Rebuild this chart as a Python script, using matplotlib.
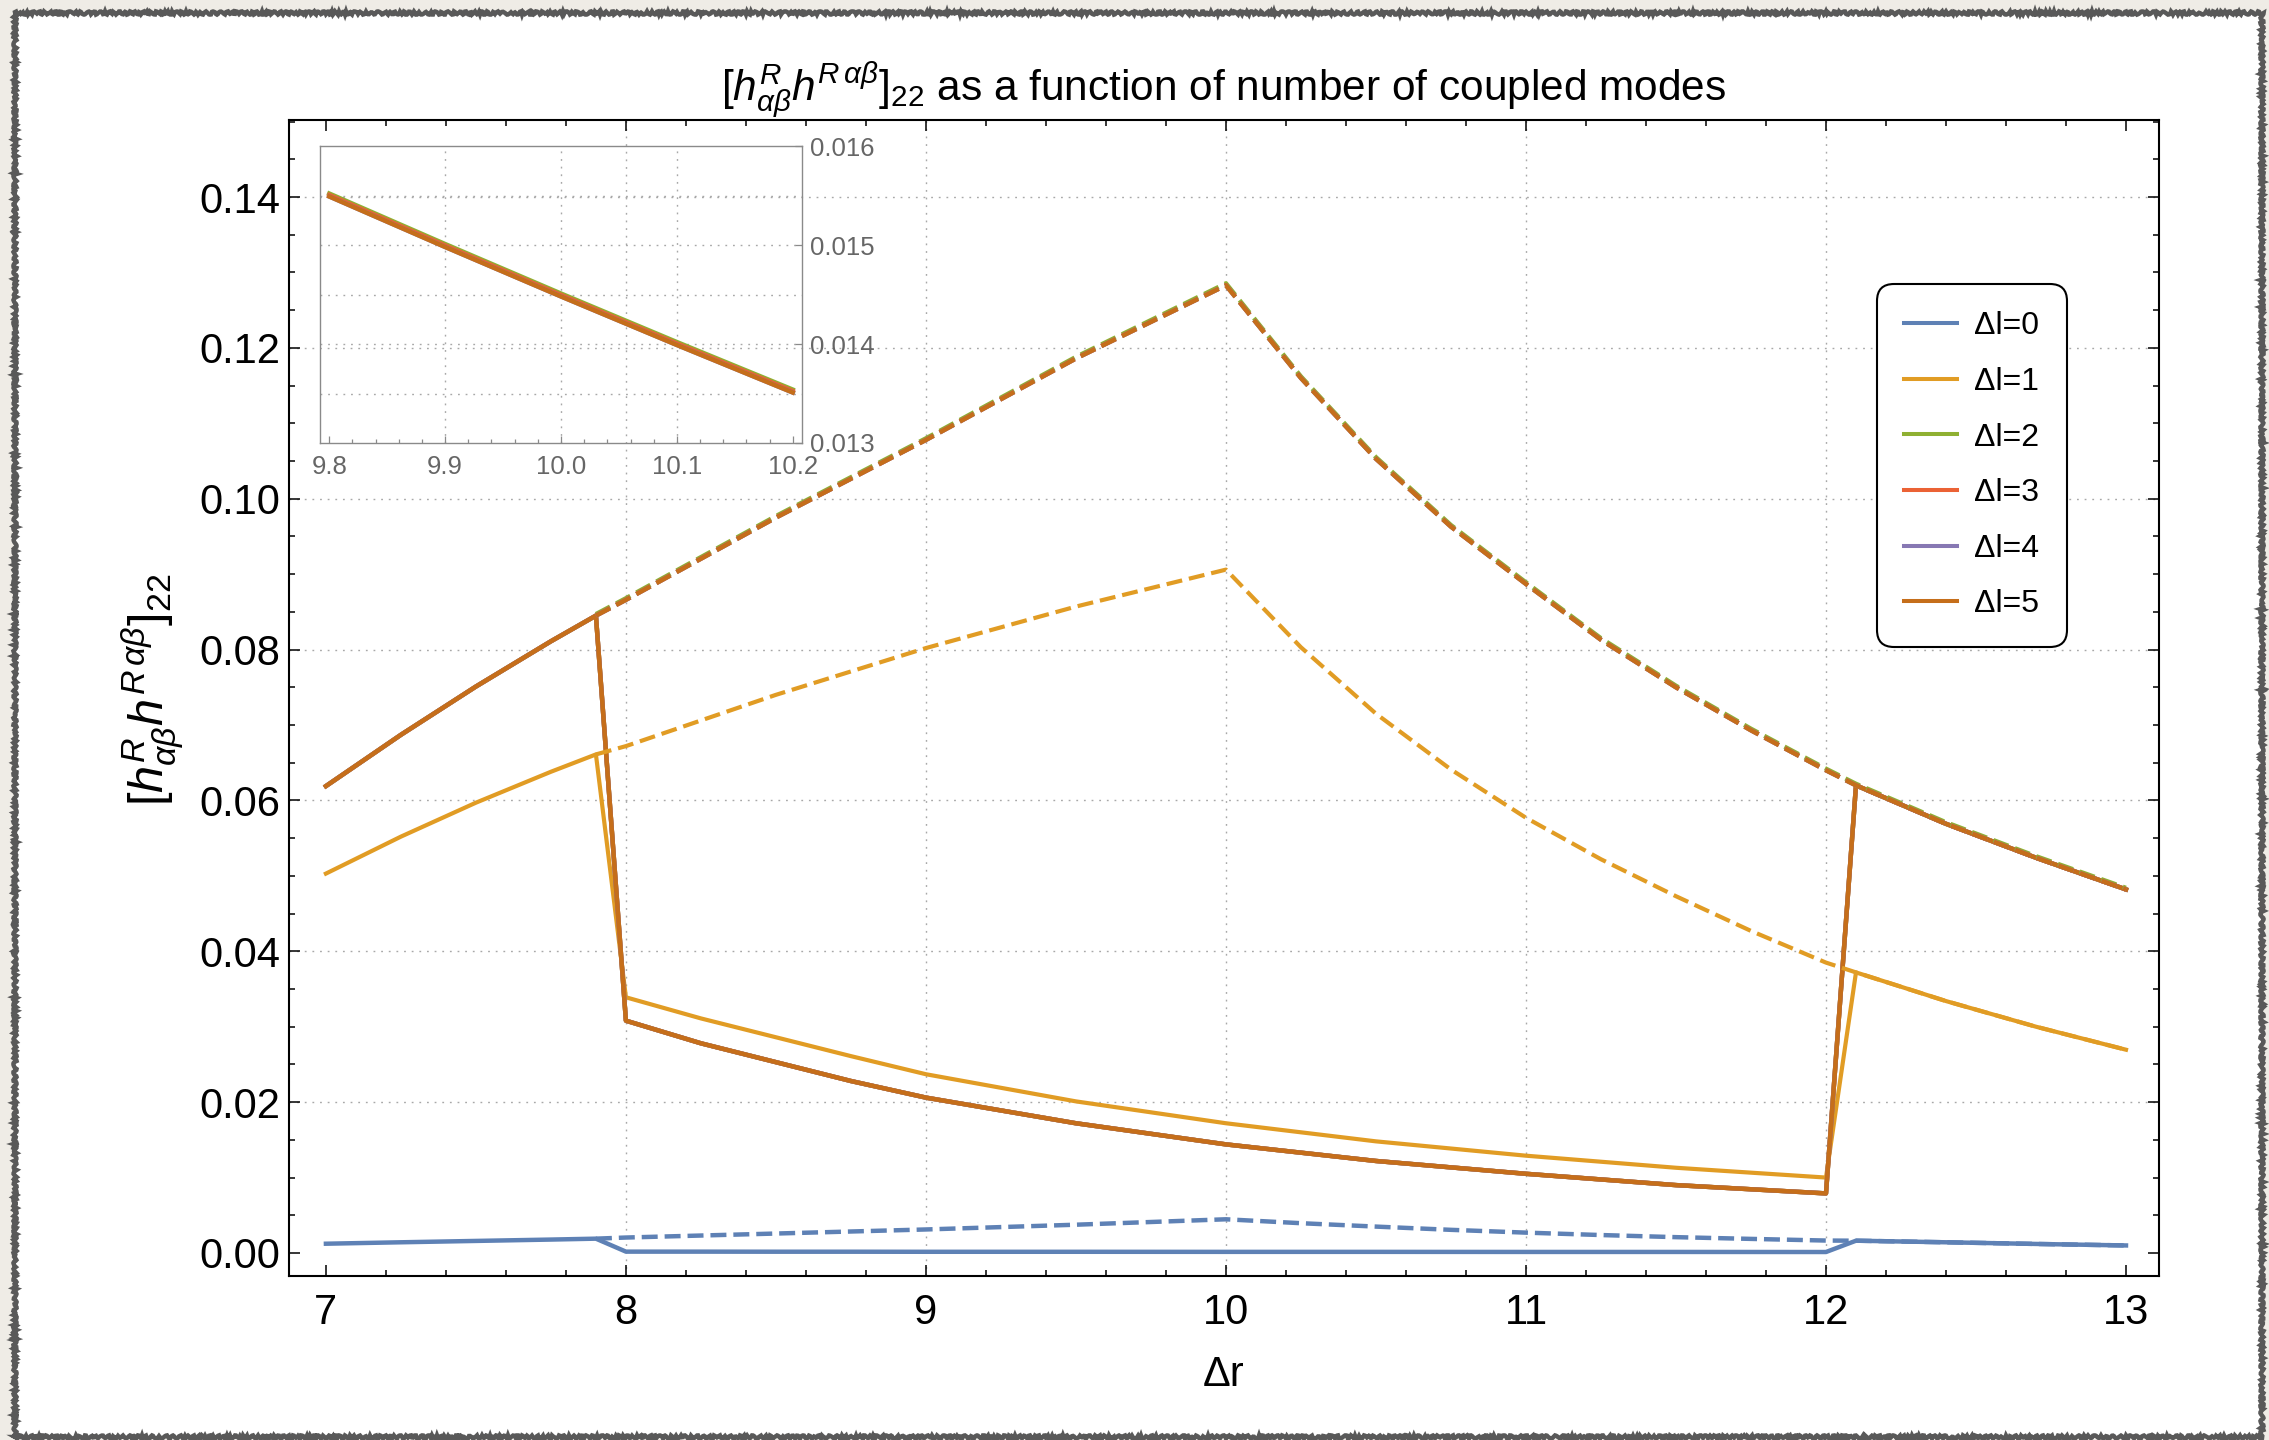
import matplotlib
matplotlib.use('Agg')
import matplotlib.pyplot as plt
from matplotlib.lines import Line2D
from matplotlib.patches import Rectangle
from matplotlib.ticker import MultipleLocator, FormatStrFormatter

plt.rcParams['font.family'] = ['Liberation Sans', 'DejaVu Sans']
plt.rcParams['mathtext.fontset'] = 'custom'
plt.rcParams['mathtext.rm'] = 'Liberation Sans'
plt.rcParams['mathtext.it'] = 'Liberation Sans:italic'
plt.rcParams['mathtext.bf'] = 'Liberation Sans:bold'
plt.rcParams['lines.scale_dashes'] = False

# ------------------------------------------------------------------ data
labels = ['Δl=0', 'Δl=1', 'Δl=2', 'Δl=3', 'Δl=4', 'Δl=5']
colors = ['#5E81B5', '#E19C24', '#8FB032', '#EB6235', '#8778B3', '#C56E1A']

# solid branch
x_solid = [7.0, 7.25, 7.5, 7.75, 7.9,
           8.0, 8.25, 8.5, 8.75, 9.0, 9.5, 10.0, 10.5, 11.0, 11.5, 12.0,
           12.1, 12.4, 12.7, 13.0]
dl0_solid = [0.00123, 0.00142, 0.00160, 0.00178, 0.00190,
             0.00018, 0.00018, 0.00017, 0.00017, 0.00016, 0.00016, 0.00015,
             0.00015, 0.00014, 0.00014, 0.00013,
             0.00163, 0.00142, 0.00120, 0.00100]
dl1_solid = [0.0503, 0.0552, 0.0597, 0.0638, 0.0661,
             0.0339, 0.0311, 0.0286, 0.0261, 0.0237, 0.0201, 0.0172,
             0.0148, 0.0129, 0.0113, 0.0100,
             0.0372, 0.0334, 0.0300, 0.02695]
dl2to5_solid = [0.0619, 0.0687, 0.0751, 0.0811, 0.0845,
                0.0308, 0.0278, 0.0253, 0.0228, 0.0206, 0.0172, 0.0144,
                0.0122, 0.0105, 0.0090, 0.0079,
                0.0620, 0.0569, 0.0524, 0.0482]

# dashed branch
x_dashed = [7.9, 8.0, 8.5, 9.0, 9.5, 10.0, 10.25, 10.5, 10.75, 11.0,
            11.25, 11.5, 11.75, 12.0, 12.1, 12.4, 12.7, 13.0]
dl0_dashed = [0.00190, 0.00205, 0.00258, 0.00312, 0.00375, 0.00447,
              0.00395, 0.00350, 0.00307, 0.00270, 0.00238, 0.00210,
              0.00187, 0.00165, 0.00163, 0.00142, 0.00120, 0.00100]
dl1_dashed = [0.0661, 0.0672, 0.0740, 0.0802, 0.0857, 0.0906,
              0.0803, 0.0715, 0.0641, 0.0577, 0.0522, 0.0473,
              0.0427, 0.0385, 0.0372, 0.0334, 0.0300, 0.02695]
dl2_dashed = [0.08470, 0.08680, 0.09770, 0.10800, 0.11880, 0.12855,
              0.11620, 0.10550, 0.09650, 0.08890, 0.08150, 0.07520,
              0.06950, 0.06420, 0.06220, 0.05710, 0.05260, 0.04840]
dl3to5_dashed = [0.0845, 0.0866, 0.0975, 0.1078, 0.1186, 0.1283,
                 0.1160, 0.1053, 0.0963, 0.0887, 0.0813, 0.0750,
                 0.0693, 0.0640, 0.0620, 0.0569, 0.0524, 0.0482]

solid_series = [dl0_solid, dl1_solid, dl2to5_solid, dl2to5_solid,
                dl2to5_solid, dl2to5_solid]
dashed_series = [dl0_dashed, dl1_dashed, dl2_dashed, dl3to5_dashed,
                 dl3to5_dashed, dl3to5_dashed]

# inset (zoom of the solid branch around Δr = 10)
inset_x = [9.8, 9.9, 10.0, 10.1, 10.2]
inset_dl2 = [0.01552, 0.01501, 0.01451, 0.01402, 0.01354]
inset_dl3 = [0.015505, 0.014995, 0.014495, 0.014005, 0.013525]
inset_dl4 = [0.01549, 0.01498, 0.01448, 0.01399, 0.01351]
inset_dl5 = [0.01549, 0.01498, 0.01448, 0.01399, 0.01351]

xticks_main = [7, 8, 9, 10, 11, 12, 13]
grid_x = [8, 9, 10, 11, 12]
grid_y = [0.02, 0.04, 0.06, 0.08, 0.10, 0.12, 0.14]
inset_grid_x = [9.9, 10.0, 10.1]
inset_grid_y = [0.0135, 0.014, 0.0145, 0.015, 0.0155]

title = (r'$[h^{R}_{\alpha\beta}h^{R\,\alpha\beta}]_{22}$'
         ' as a function of number of coupled modes')
ylabel = r'$[h^{R}_{\alpha\beta}h^{R\,\alpha\beta}]_{22}$'
xlabel = 'Δr'

# ------------------------------------------------------------------ figure
W, H = 2269, 1440
fig = plt.figure(figsize=(W / 100, H / 100), dpi=100)
fig.patch.set_facecolor('#EFECE6')

# paper frame
frame = Rectangle((15 / W, 1 - 1437 / H), (2262 - 15) / W, (1437 - 13) / H,
                  transform=fig.transFigure, facecolor='white',
                  edgecolor='#595959', lw=3.2, zorder=-10)
frame.set_sketch_params(scale=1.6, length=6, randomness=3)
fig.patches.append(frame)

L, R, T, B = 289, 2159, 120, 1276
ax = fig.add_axes([L / W, 1 - B / H, (R - L) / W, (B - T) / H])
ax.set_facecolor('white')
ax.set_xlim(6.877, 13.110)
ax.set_ylim(-0.00305, 0.15021)

grid_kw = dict(color='#A8A8A8', lw=1.0, ls=(0, (1.3, 4.2)), zorder=1)
for gx in grid_x:
    ax.axvline(gx, **grid_kw)
for gy in grid_y:
    ax.axhline(gy, **grid_kw)

lws = [3.2, 3.0, 3.2, 3.2, 3.2, 3.2]
for ys, c, lw in zip(solid_series, colors, lws):
    ax.plot(x_solid, ys, color=c, lw=lw, solid_joinstyle='round', zorder=3)
for ys, c, lw in zip(dashed_series, colors, lws):
    ax.plot(x_dashed, ys, color=c, lw=lw, ls=(0, (11.5, 5.0)), zorder=4)

ax.xaxis.set_major_locator(plt.FixedLocator(xticks_main))
ax.xaxis.set_minor_locator(MultipleLocator(0.2))
ax.yaxis.set_major_locator(MultipleLocator(0.02))
ax.yaxis.set_minor_locator(MultipleLocator(0.005))
ax.yaxis.set_major_formatter(FormatStrFormatter('%.2f'))
ax.tick_params(which='both', direction='in', top=True, right=True,
               color='black', width=1.1)
ax.tick_params(which='major', length=8)
ax.tick_params(which='minor', length=4.5)
ax.tick_params(axis='x', which='major', labelsize=30, pad=12)
ax.tick_params(axis='y', which='major', labelsize=30, pad=6)
for s in ax.spines.values():
    s.set_linewidth(1.5)
    s.set_color('black')

ax.set_title(title, fontsize=30.5, pad=14)
ax.set_xlabel(xlabel, fontsize=30, va='center')
ax.xaxis.set_label_coords(0.5, -(1375 - B) / (B - T))
ax.set_ylabel(ylabel, fontsize=35, va='center', ha='center')
ax.yaxis.set_label_coords((153 - L) / (R - L), (B - 690) / (B - T))

handles = [Line2D([], [], color=c, lw=2.9) for c in colors]
leg = ax.legend(handles, labels, loc='upper left',
                bbox_to_anchor=(1877 / W, 1 - 284 / H),
                bbox_transform=fig.transFigure, borderaxespad=0,
                fontsize=23, handlelength=1.63, handletextpad=0.56,
                labelspacing=0.80, borderpad=0.86, frameon=True,
                fancybox=True, framealpha=1)
fr = leg.get_frame()
fr.set_edgecolor('black')
fr.set_linewidth(1.5)
fr.set_boxstyle('round', pad=0, rounding_size=0.53)

# ------------------------------------------------------------------ inset
iL, iR, iT, iB = 320, 802, 146, 443
axi = fig.add_axes([iL / W, 1 - iB / H, (iR - iL) / W, (iB - iT) / H])
axi.set_facecolor('none')
axi.set_xlim(9.792, 10.208)
axi.set_ylim(0.013, 0.016)
igrid_kw = dict(color='#A8A8A8', lw=1.0, ls=(0, (1.3, 4.2)), zorder=1)
for gx in inset_grid_x:
    axi.axvline(gx, **igrid_kw)
for gy in inset_grid_y:
    axi.axhline(gy, **igrid_kw)
for ys, c in zip([inset_dl2, inset_dl3, inset_dl4, inset_dl5], colors[2:]):
    axi.plot(inset_x, ys, color=c, lw=3.2, zorder=3)
axi.xaxis.set_major_locator(MultipleLocator(0.1))
axi.xaxis.set_minor_locator(MultipleLocator(0.02))
axi.yaxis.set_major_locator(MultipleLocator(0.001))
axi.xaxis.set_major_formatter(FormatStrFormatter('%.1f'))
axi.yaxis.set_major_formatter(FormatStrFormatter('%.3f'))
axi.yaxis.tick_right()
axi.tick_params(which='both', direction='in', color='#8A8A8A', width=0.9,
                labelcolor='#666666', labelsize=18.5)
axi.tick_params(which='major', length=5)
axi.tick_params(which='minor', length=3)
axi.tick_params(axis='x', pad=9)
axi.tick_params(axis='y', pad=6)
for s in axi.spines.values():
    s.set_linewidth(1.0)
    s.set_color('#8A8A8A')

fig.savefig('out.png', dpi=100, facecolor=fig.get_facecolor())
